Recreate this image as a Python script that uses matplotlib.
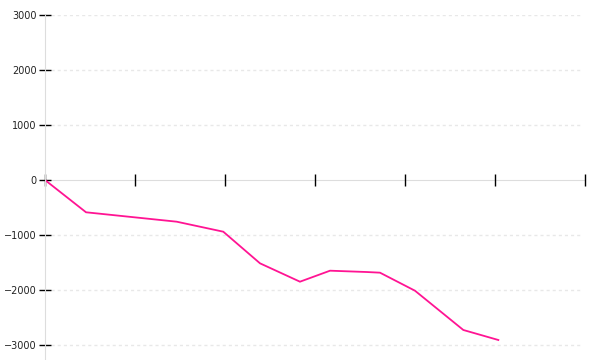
import matplotlib
matplotlib.use("Agg")
import matplotlib.pyplot as plt

x_values = [0, 0.456, 1.463, 1.981, 2.389, 2.833, 3.167, 3.574, 3.722, 4.111, 4.648, 5.037]
y_values = [0, -587, -758, -940, -1515, -1849, -1649, -1673, -1685, -2013, -2727, -2909]
x_ticks = [0, 1, 2, 3, 4, 5, 6]
y_ticks = [-3000, -2000, -1000, 0, 1000, 2000, 3000]

fig = plt.figure(figsize=(6, 3.6), dpi=100)
ax = fig.add_axes([45/600, 0, 540/600, 345/360])
ax.plot(x_values, y_values, color="#ff1493", linewidth=1.3, solid_joinstyle="miter")
ax.set_xlim(0, 6)
ax.set_ylim(-3000 - 15/55*1000, 3000)
ax.set_xticks(x_ticks)
ax.set_xticklabels([])
ax.set_yticks(y_ticks)
ax.set_yticklabels([str(v).replace("-", "\u2212") for v in y_ticks])
for s in ["top", "right"]:
    ax.spines[s].set_visible(False)
ax.spines["bottom"].set_position(("data", 0))
ax.spines["bottom"].set_color("#dddddd")
ax.spines["left"].set_color("#dddddd")
ax.spines["bottom"].set_zorder(1)
ax.tick_params(axis="x", direction="inout", length=8, width=1, color="black")
ax.tick_params(axis="y", direction="inout", length=9, width=1, color="black",
               labelsize=7, pad=1.5, labelcolor="#222222")
for v in y_ticks:
    if v != 0:
        ax.plot([0, 5.97], [v, v], color="#e8e8e8", linewidth=1, dashes=(2.2, 2.2), zorder=0)
fig.savefig("out.png", dpi=100)
